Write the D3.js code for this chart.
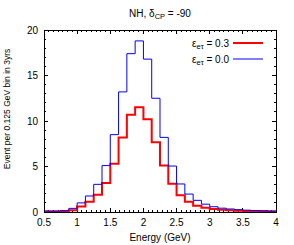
<!DOCTYPE html>
<html lang="en">
<head>
<meta charset="utf-8">
<script src="https://cdnjs.cloudflare.com/ajax/libs/d3/7.8.5/d3.min.js"></script>
<title>NH event spectrum</title>
<style>
  body { margin: 0; background: #fff; }
  text { font-family: "Liberation Sans", Arial, sans-serif; fill: #000; }
</style>
</head>
<body>
<svg id="chart" width="294" height="245"></svg>
<script>
// bin low edges (GeV), width 0.125
var binStart = 0.5, binWidth = 0.125;
var eps03 = [0.05, 0.05, 0.08, 0.2, 0.6, 1.13, 1.9, 3.2, 5.3, 8.2, 10.7, 11.5, 10.2, 7.66,
             5.1, 3.1, 1.83, 1.12, 0.7, 0.46, 0.33, 0.25, 0.2, 0.15, 0.12, 0.1, 0.08, 0.06];
var eps00 = [0.1, 0.1, 0.15, 0.4, 1.0, 1.76, 3.04, 5.1, 8.5, 13.2, 17.4, 18.8, 16.8, 12.5,
             8.2, 5.05, 3.08, 1.97, 1.28, 0.86, 0.58, 0.42, 0.33, 0.26, 0.2, 0.16, 0.13, 0.1];
var xTicks = [0.5, 1, 1.5, 2, 2.5, 3, 3.5, 4];
var yTicks = [0, 5, 10, 15, 20];
var seriesNames = ["0.3", "0.0"];
var seriesColors = ["#ff0000", "#0000ff"];

var svg = d3.select("#chart");
var pLeft = 44, pRight = 276, pTop = 30, pBottom = 212;

var x = d3.scaleLinear().domain([0.5, 4]).range([pLeft, pRight]);
var y = d3.scaleLinear().domain([0, 20]).range([pBottom, pTop]);

// minor ticks
var xMinor = d3.range(0, 50).map(i => 0.5 + i * 0.5 / 7).filter(v => v <= 4.0001);
var yMinor = d3.range(0, 21);

var g = svg.append("g");
function xtickMarks(vals, len) {
  vals.forEach(v => {
    g.append("line").attr("x1", x(v)).attr("x2", x(v)).attr("y1", pBottom).attr("y2", pBottom - len);
    g.append("line").attr("x1", x(v)).attr("x2", x(v)).attr("y1", pTop).attr("y2", pTop + len);
  });
}
function ytickMarks(vals, len) {
  vals.forEach(v => {
    g.append("line").attr("x1", pLeft).attr("x2", pLeft + len).attr("y1", y(v)).attr("y2", y(v));
    g.append("line").attr("x1", pRight).attr("x2", pRight - len).attr("y1", y(v)).attr("y2", y(v));
  });
}
xtickMarks(xMinor, 2);
xtickMarks(xTicks, 4);
ytickMarks(yMinor, 2);
ytickMarks(yTicks, 4);
g.selectAll("line").attr("stroke", "#000").attr("stroke-width", 1).attr("shape-rendering", "crispEdges");

// tick labels
svg.selectAll(".xl").data(xTicks).enter().append("text")
  .attr("x", d => x(d)).attr("y", 226).attr("text-anchor", "middle")
  .attr("font-size", 10).text(d => d);
svg.selectAll(".yl").data(yTicks).enter().append("text")
  .attr("x", 38).attr("y", d => y(d) + 3.5).attr("text-anchor", "end")
  .attr("font-size", 10).text(d => d);

// histograms
function stepData(vals) {
  var pts = vals.map((v, i) => [binStart + i * binWidth, v]);
  pts.push([binStart + vals.length * binWidth, vals[vals.length - 1]]);
  return pts;
}
var line = d3.line().x(d => x(d[0])).y(d => y(d[1])).curve(d3.curveStepAfter);
svg.append("path").attr("d", line(stepData(eps03)))
  .attr("fill", "none").attr("stroke", seriesColors[0]).attr("stroke-width", 2);
svg.append("path").attr("d", line(stepData(eps00)))
  .attr("fill", "none").attr("stroke", seriesColors[1]).attr("stroke-width", 1);

// frame
svg.append("rect").attr("x", pLeft).attr("y", pTop).attr("width", pRight - pLeft).attr("height", pBottom - pTop)
  .attr("fill", "none").attr("stroke", "#000").attr("stroke-width", 1).attr("shape-rendering", "crispEdges");

// legend
seriesNames.forEach((name, i) => {
  var ly = 43 + i * 16;
  var t = svg.append("text").attr("x", 229).attr("y", ly + 3.5).attr("text-anchor", "end").attr("font-size", 10);
  t.append("tspan").text("\u03b5");
  t.append("tspan").attr("font-size", 7.5).attr("dy", 2).text("e\u03c4");
  t.append("tspan").attr("dy", -2).text(" = " + name);
  svg.append("line").attr("x1", 233).attr("x2", 263).attr("y1", ly).attr("y2", ly)
    .attr("stroke", seriesColors[i]).attr("stroke-width", i == 0 ? 2 : 1);
});

// title
var tt = svg.append("text").attr("x", 160).attr("y", 17).attr("text-anchor", "middle").attr("font-size", 10);
tt.append("tspan").text("NH, \u03b4");
tt.append("tspan").attr("font-size", 7.5).attr("dy", 2).text("CP");
tt.append("tspan").attr("dy", -2).text(" = -90");

// axis labels
svg.append("text").attr("x", 160).attr("y", 241).attr("text-anchor", "middle").attr("font-size", 10)
  .text("Energy (GeV)");
svg.append("text").attr("transform", "translate(10,109) rotate(-90)").attr("text-anchor", "middle")
  .attr("font-size", 8.5).text("Event per 0.125 GeV bin in 3yrs");
</script>
</body>
</html>
